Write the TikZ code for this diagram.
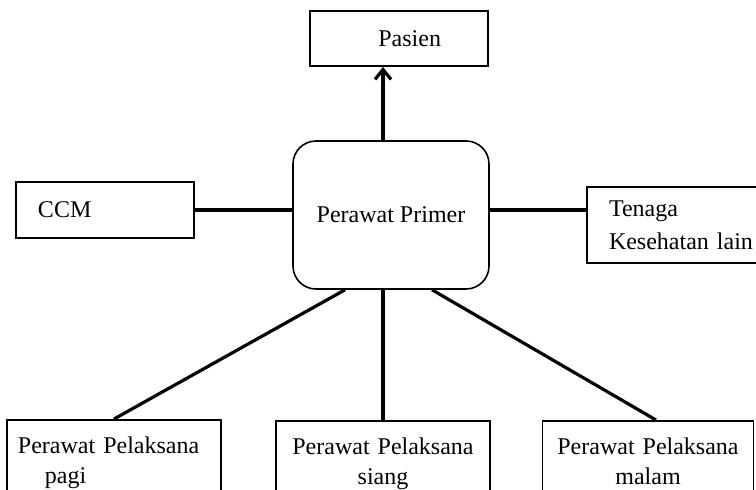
\documentclass[tikz,border=0pt]{standalone}
\usepackage{fontspec}
\setmainfont{Liberation Serif}
\usetikzlibrary{positioning,arrows.meta}

\begin{document}
\begin{tikzpicture}[
    x=1pt, y=1pt,
    every node/.style={font=\fontsize{12}{15}\selectfont},
    box/.style={draw, line width=0.9pt, inner sep=0pt},
    sidebox/.style={box, align=left, inner xsep=11pt, inner ysep=0pt},
    staffbox/.style={box, anchor=north, align=center, text width=99pt, inner xsep=4pt, inner ysep=8.3pt},
    primary/.style={draw, line width=0.8pt, rounded corners=11.5pt, minimum width=98pt, minimum height=74pt},
    link/.style={line width=1.6pt},
    arrow/.style={link, -{Straight Barb[length=5pt,width=8pt]}}
  ]
  \path[use as bounding box, clip] (0,0) rectangle (378,244.5);

  \node[primary] (primer) at (195.5,137) {Perawat Primer};
  \node[box, text width=42pt, inner xsep=23.5pt, align=right, minimum height=27.5pt] (pasien) at (199.5,225.25) {Pasien};
  \node[sidebox, text width=67pt, minimum height=28pt] (ccm) at (52.5,139.5) {CCM};
  \node[sidebox, text width=74.5pt, minimum height=38pt, font=\fontsize{12}{16.5}\selectfont] (tenaga) at (341.75,132) {Tenaga\\Kesehatan lain};

  % pelaksana per shift
  \node[staffbox, align=left, text width=96pt, inner xsep=5.5pt] (pagi) at (57,35) {Perawat Pelaksana\\\hspace*{13.5pt}pagi};
  \node[staffbox] (siang) at (191.5,34.5) {Perawat Pelaksana\\siang};
  \node[staffbox, text width=97.5pt] (malam) at (324,34.5) {Perawat Pelaksana\\malam};

  \draw[arrow] (primer.north -| siang.north) -- (siang.north |- pasien.south);
  \draw[link] (ccm.east) -- (ccm.east -| primer.west);
  \draw[link] (primer.east |- ccm.east) -- (tenaga.west |- ccm.east);
  \draw[link] ([xshift=-23pt]primer.south) -- (pagi.north);
  \draw[link] (primer.south -| siang.north) -- (siang.north);
  \draw[link] ([xshift=20.5pt]primer.south) -- ([xshift=4pt]malam.north);
\end{tikzpicture}
\end{document}
